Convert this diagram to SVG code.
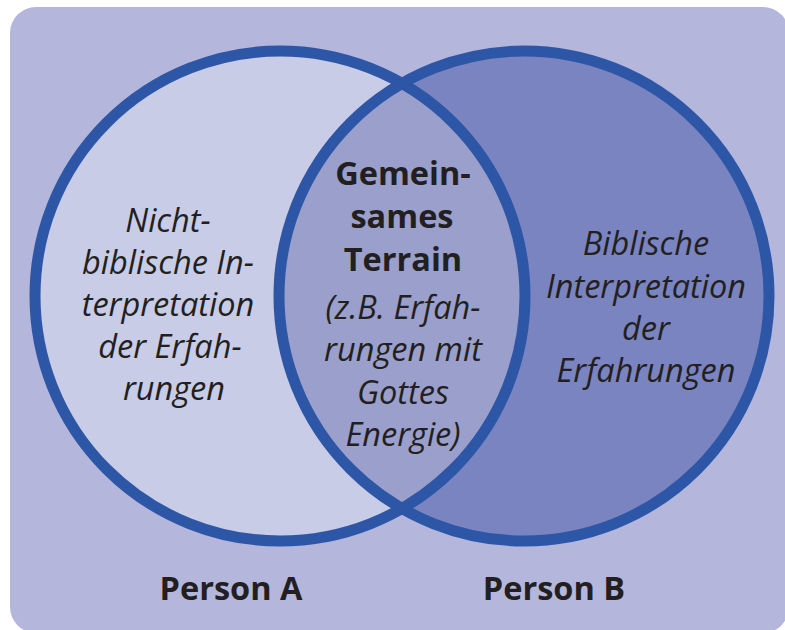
<svg xmlns="http://www.w3.org/2000/svg" width="785" height="630" viewBox="0 0 785 630">
<style>
.t{font-family:"Open Sans","Noto Sans","Liberation Sans",sans-serif;font-size:32.5px;fill:#231f20;text-anchor:middle}
.i{font-style:italic}
.b{font-weight:bold}
.ring{fill:none;stroke:#2e56a6;stroke-width:11}
</style>
<defs>
<clipPath id="clipA"><circle cx="280" cy="296" r="245"/></clipPath>
</defs>
<rect x="10" y="7" width="779" height="626" rx="26" fill="#b4b7db"/>
<g id="personA">
<circle cx="280" cy="296" r="245" fill="#c8cce6"/>
</g>
<g id="personB">
<circle cx="524" cy="296" r="245" fill="#7a84c0"/>
</g>
<g id="common">
<circle cx="524" cy="296" r="245" fill="#9a9fcc" clip-path="url(#clipA)"/>
</g>
<g id="outlines">
<circle class="ring" cx="280" cy="296" r="245"/>
<circle class="ring" cx="524" cy="296" r="245"/>
</g>
<g id="textA">
<text class="t i" x="168" y="232">Nicht-</text>
<text class="t i" x="168" y="274">biblische In-</text>
<text class="t i" x="168" y="316">terpretation</text>
<text class="t i" x="170" y="358">der Erfah-</text>
<text class="t i" x="174" y="400">rungen</text>
</g>
<g id="textCommon">
<text class="t b" x="403" y="185">Gemein-</text>
<text class="t b" x="402" y="228">sames</text>
<text class="t b" x="403" y="271">Terrain</text>
<text class="t i" x="403" y="319">(z.B. Erfah-</text>
<text class="t i" x="403" y="361">rungen mit</text>
<text class="t i" x="403" y="404">Gottes</text>
<text class="t i" x="403" y="446">Energie)</text>
</g>
<g id="textB">
<text class="t i" x="646" y="255">Biblische</text>
<text class="t i" x="646" y="298">Interpretation</text>
<text class="t i" x="646" y="340">der</text>
<text class="t i" x="646" y="382">Erfahrungen</text>
</g>
<g id="labels">
<text class="t b" x="231" y="600">Person A</text>
<text class="t b" x="554" y="600">Person B</text>
</g>
</svg>
